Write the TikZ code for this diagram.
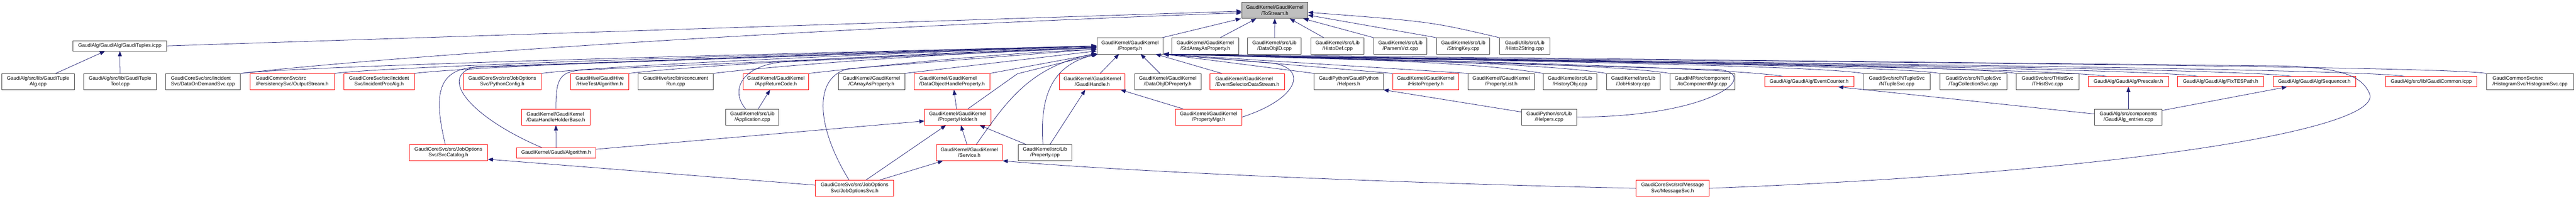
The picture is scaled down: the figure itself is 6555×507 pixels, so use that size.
\documentclass[tikz,border=0pt]{standalone}
\usepackage{fontspec}
\setmainfont{Liberation Sans}
\usetikzlibrary{arrows.meta,calc}
\definecolor{mblue}{HTML}{191970}
\definecolor{gry}{HTML}{404040}
\definecolor{rdc}{HTML}{FF0000}
\definecolor{rootfill}{HTML}{BFBFBF}
\tikzset{
 box/.style={draw, line width=1pt, inner sep=0pt, align=center, font=\fontsize{12.8pt}{15pt}\selectfont, minimum height=41pt, text=black, fill=white},
 bk/.style={box, draw=gry},
 rb/.style={box, draw=rdc},
 one/.style={minimum height=26pt},
 L/.style={align=left},
 conn/.style={draw=mblue, line width=1pt, -{Triangle[length=13pt,width=10pt]}},
}
\begin{document}
\begin{tikzpicture}[x=1pt,y=-1pt]
\fill[white] (0,0) rectangle (6555,507);
\useasboundingbox (0,0) rectangle (6555,507);
% level 0
\node[bk, fill=rootfill, minimum width=168pt] (root) at (3244,26.5) {GaudiKernel/GaudiKernel\\/ToStream.h};
% level 1
\node[bk, one, minimum width=238pt] (tup) at (305,117) {GaudiAlg/GaudiAlg/GaudiTuples.icpp};
\node[bk, minimum width=169pt] (prop) at (2875.5,117) {GaudiKernel/GaudiKernel\\/Property.h};
\node[bk, minimum width=170pt] (stdarr) at (3067,117) {GaudiKernel/GaudiKernel\\/StdArrayAsProperty.h};
\node[bk, minimum width=136pt] (dobjid) at (3243,117) {GaudiKernel/src/Lib\\/DataObjID.cpp};
\node[bk, minimum width=135pt] (histodef) at (3403.5,117) {GaudiKernel/src/Lib\\/HistoDef.cpp};
\node[bk, minimum width=135pt] (parsers) at (3563.5,117) {GaudiKernel/src/Lib\\/ParsersVct.cpp};
\node[bk, minimum width=135pt] (strkey) at (3723.5,117) {GaudiKernel/src/Lib\\/StringKey.cpp};
\node[bk, minimum width=128pt] (h2s) at (3880,117) {GaudiUtils/src/Lib\\/Histo2String.cpp};
% level 2
\node[bk, minimum width=184pt] (tupalg) at (97,208) {GaudiAlg/src/lib/GaudiTuple\\Alg.cpp};
\node[bk, minimum width=185pt] (tuptool) at (305.5,208) {GaudiAlg/src/lib/GaudiTuple\\Tool.cpp};
\node[bk, L, minimum width=191pt] (dods) at (516.5,208) {GaudiCoreSvc/src/Incident\\Svc/DataOnDemandSvc.cpp};
\node[rb, L, minimum width=215pt] (outs) at (743.5,208) {GaudiCommonSvc/src\\/PersistencySvc/OutputStream.h};
\node[rb, minimum width=179pt] (ipa) at (964.5,208) {GaudiCoreSvc/src/Incident\\Svc/IncidentProcAlg.h};
\node[rb, minimum width=198pt] (pyc) at (1278,208) {GaudiCoreSvc/src/JobOptions\\Svc/PythonConfig.h};
\node[rb, minimum width=148pt] (hive) at (1526,208) {GaudiHive/GaudiHive\\/HiveTestAlgorithm.h};
\node[bk, minimum width=191pt] (crun) at (1719.5,208) {GaudiHive/src/bin/concurrent\\Run.cpp};
\node[rb, minimum width=167pt] (arc) at (1974.5,208) {GaudiKernel/GaudiKernel\\/AppReturnCode.h};
\node[bk, minimum width=169pt] (carr) at (2217.5,208) {GaudiKernel/GaudiKernel\\/CArrayAsProperty.h};
\node[rb, L, minimum width=193pt] (dohp) at (2422.5,208) {GaudiKernel/GaudiKernel\\/DataObjectHandleProperty.h};
\node[rb, minimum width=167pt] (gh) at (2779.5,208) {GaudiKernel/GaudiKernel\\/GaudiHandle.h};
\node[bk, minimum width=169pt] (doidp) at (2971.5,208) {GaudiKernel/GaudiKernel\\/DataObjIDProperty.h};
\node[rb, L, minimum width=190pt] (esds) at (3174,208) {GaudiKernel/GaudiKernel\\/EventSelectorDataStream.h};
\node[bk, minimum width=176pt] (helph) at (3432,208) {GaudiPython/GaudiPython\\/Helpers.h};
\node[rb, minimum width=168pt] (histop) at (3628,208) {GaudiKernel/GaudiKernel\\/HistoProperty.h};
\node[bk, minimum width=168pt] (plist) at (3820,208) {GaudiKernel/GaudiKernel\\/PropertyList.h};
\node[bk, minimum width=136pt] (hobj) at (3995,208) {GaudiKernel/src/Lib\\/HistoryObj.cpp};
\node[bk, minimum width=136pt] (jhist) at (4156,208) {GaudiKernel/src/Lib\\/JobHistory.cpp};
\node[bk, minimum width=166pt] (iocm) at (4332,208) {GaudiMP/src/component\\/IoComponentMgr.cpp};
\node[rb, one, minimum width=227pt] (evc) at (4603.5,208) {GaudiAlg/GaudiAlg/EventCounter.h};
\node[bk, minimum width=171pt] (nts) at (4826.5,208) {GaudiSvc/src/NTupleSvc\\/NTupleSvc.cpp};
\node[bk, minimum width=171pt] (tcs) at (5021.5,208) {GaudiSvc/src/NTupleSvc\\/TagCollectionSvc.cpp};
\node[bk, minimum width=160pt] (ths) at (5210,208) {GaudiSvc/src/THistSvc\\/THistSvc.cpp};
\node[rb, one, minimum width=204pt] (presc) at (5416,208) {GaudiAlg/GaudiAlg/Prescaler.h};
\node[rb, one, minimum width=219pt] (fix) at (5650.5,208) {GaudiAlg/GaudiAlg/FixTESPath.h};
\node[rb, one, minimum width=210pt] (seq) at (5889,208) {GaudiAlg/GaudiAlg/Sequencer.h};
\node[rb, one, minimum width=233pt] (gcom) at (6186.5,208) {GaudiAlg/src/lib/GaudiCommon.icpp};
\node[bk, L, minimum width=222pt] (hsvc) at (6438,208) {GaudiCommonSvc/src\\/HistogramSvc/HistogramSvc.cpp};
% level 3
\node[rb, L, minimum width=175pt] (dhhb) at (1414.5,298.5) {GaudiKernel/GaudiKernel\\/DataHandleHolderBase.h};
\node[bk, minimum width=135pt] (app) at (1914.5,298.5) {GaudiKernel/src/Lib\\/Application.cpp};
\node[rb, minimum width=168pt] (ph) at (2437,298.5) {GaudiKernel/GaudiKernel\\/PropertyHolder.h};
\node[rb, minimum width=169pt] (pmgr) at (3075.5,298.5) {GaudiKernel/GaudiKernel\\/PropertyMgr.h};
\node[bk, minimum width=140pt] (helpcpp) at (3942,298.5) {GaudiPython/src/Lib\\/Helpers.cpp};
\node[bk, minimum width=172pt] (gaent) at (5416,298.5) {GaudiAlg/src/components\\/GaudiAlg\_entries.cpp};
% level 4
\node[rb, minimum width=200pt] (svccat) at (1141,389) {GaudiCoreSvc/src/JobOptions\\Svc/SvcCatalog.h};
\node[rb, one, minimum width=202pt] (algo) at (1415,389.5) {GaudiKernel/Gaudi/Algorithm.h};
\node[rb, minimum width=169pt] (svc) at (2466.5,389) {GaudiKernel/GaudiKernel\\/Service.h};
\node[bk, minimum width=136pt] (propcpp) at (2659,389) {GaudiKernel/src/Lib\\/Property.cpp};
% level 5
\node[rb, minimum width=199pt] (jos) at (2174.5,480) {GaudiCoreSvc/src/JobOptions\\Svc/JobOptionsSvc.h};
\node[rb, minimum width=186pt] (msvc) at (4256,480) {GaudiCoreSvc/src/Message\\Svc/MessageSvc.h};

% ---- edges to root
\draw[conn] (tup.east) -- ($(root.west)+(0,2)$);
\draw[conn] (dods.north east) .. controls (1000,143) and (2000,75) .. ($(root.west)+(0,6)$);
\draw[conn] ($(prop.north east)+(-3,0)$) -- ($(root.south west)+(-2,0)$);
\draw[conn] ($(stdarr.north)+(38,0)$) -- ($(root.south west)+(37,0)$);
\draw[conn] (dobjid) -- (root);
\draw[conn] ($(histodef.north)+(-35,0)$) -- ($(root.south)+(38,0)$);
\draw[conn] (parsers.north west) -- ($(root.south east)+(-12,0)$);
\draw[conn] (strkey.north west) -- ($(root.east)+(0,12)$);
\draw[conn] (h2s.north west) .. controls (3640,55) .. ($(root.east)+(0,5)$);
% ---- edges to GaudiTuples
\draw[conn] ($(tupalg.north)+(45,0)$) -- ($(tup.south)+(-38,0)$);
\draw[conn] (tuptool) -- (tup);
% ---- left bundle to Property.h
\draw[conn] (dods.north east) .. controls (812,163) and (2491,125) .. (prop.west);
\draw[conn] (outs.north east) .. controls (1051,163) and (2491,125) .. (prop.west);
\draw[conn] (ipa.north east) .. controls (1254,163) and (2491,125) .. (prop.west);
\draw[conn] (pyc.north east) .. controls (1577,163) and (2491,127) .. ($(prop.west)+(0,2)$);
\draw[conn] (hive.north east) .. controls (1800,163) and (2491,129) .. ($(prop.west)+(0,4)$);
\draw[conn] (crun.north east) .. controls (2015,163) and (2491,131) .. ($(prop.west)+(0,6)$);
\draw[conn] (arc.north east) .. controls (2258,165) and (2550,135) .. ($(prop.west)+(0,9)$);
\draw[conn] (carr.north east) -- ($(prop.west)+(0,13)$);
\draw[conn] (dohp.north east) -- ($(prop.south west)+(0,-1)$);
\draw[conn] (dhhb.north) .. controls (1414.5,195) and (1425,182) .. (1490,178) -- ($(prop.west)+(0,3)$);
\draw[conn] ($(app.north)+(-17,0)$) .. controls (1860,235) and (1880,170) .. (1990,158) -- ($(prop.west)+(0,5)$);
\draw[conn] ($(svccat.north)+(-8,0)$) .. controls (1105,250) and (1110,182) .. (1200,172) -- (prop.west);
\draw[conn] ($(algo.north)+(-37,0)$) .. controls (1200,300) and (1110,195) .. (1210,170) -- (prop.west);
\draw[conn] ($(jos.north)+(-14,0)$) .. controls (2075,320) and (2070,195) .. (2160,175) -- ($(prop.west)+(0,8)$);
\draw[conn] ($(ph.north)+(26,0)$) -- (2589,188) -- (prop.south west);
\draw[conn] ($(svc.north)+(18,0)$) .. controls (2560,260) and (2620,170) .. ($(prop.south west)+(0,-2)$);
\draw[conn] ($(propcpp.north)+(-5,0)$) .. controls (2645,240) and (2680,165) .. ($(prop.south west)+(3,0)$);
% ---- bottom of Property.h
\draw[conn] ($(gh.north)+(20,0)$) -- ($(prop.south)+(-28,0)$);
\draw[conn] ($(doidp.north)+(-20,0)$) -- ($(prop.south)+(27,0)$);
\draw[conn] ($(esds.north west)+(30,0)$) -- ($(prop.south east)+(-20,0)$);
% ---- right bundle to Property.h
\draw[conn] (pmgr.east) .. controls (3310,250) and (3330,170) .. (3230,160) -- (prop.south east);
\draw[conn] (helph.north west) -- (prop.south east);
\draw[conn] (histop.north west) -- (prop.south east);
\draw[conn] (plist.north west) -- (prop.south east);
\draw[conn] (hobj.north west) .. controls (3777,163) and (3560,152) .. (prop.south east);
\draw[conn] (jhist.north west) .. controls (3938,163) and (3560,152) .. (prop.south east);
\draw[conn] (iocm.north west) .. controls (4099,163) and (3560,152) .. (prop.south east);
\draw[conn] ($(evc.north west)+(47,0)$) .. controls (4387,170) and (3560,152) .. (prop.south east);
\draw[conn] (nts.north west) .. controls (4591,163) and (3560,152) .. (prop.south east);
\draw[conn] (tcs.north west) .. controls (4786,163) and (3560,152) .. (prop.south east);
\draw[conn] (ths.north west) .. controls (4980,163) and (3560,152) .. (prop.south east);
\draw[conn] ($(presc.north west)+(47,0)$) .. controls (5211,170) and (3560,152) .. (prop.south east);
\draw[conn] ($(fix.north west)+(52,0)$) .. controls (5443,170) and (3560,152) .. (prop.south east);
\draw[conn] ($(seq.north west)+(47,0)$) .. controls (5681,170) and (3560,152) .. (prop.south east);
\draw[conn] ($(gcom.north west)+(49,0)$) .. controls (5969,170) and (3560,152) .. (prop.south east);
\draw[conn] (hsvc.north west) .. controls (6177,163) and (3560,152) .. (prop.south east);
\draw[conn] (helpcpp.east) .. controls (4350,298) and (4480,195) .. (4380,178) -- (prop.south east);
\draw[conn] (msvc.east) .. controls (5400,440) and (6060,330) .. (6030,240) .. controls (6010,190) and (5950,172) .. (5800,168) -- (prop.south east);
% ---- other edges
\draw[conn] ($(app.north)+(15,0)$) -- ($(arc.south)+(-15,0)$);
\draw[conn] (algo) -- (dhhb);
\draw[conn] ($(algo.east)+(0,-9)$) -- ($(ph.west)+(0,10)$);
\draw[conn] ($(jos.west)+(0,-8)$) -- ($(svccat.south east)+(0,-4)$);
\draw[conn] ($(jos.north)+(29,0)$) -- ($(ph.south)+(-30,0)$);
\draw[conn] ($(jos.north)+(64,0)$) -- ($(svc.south west)+(18,0)$);
\draw[conn] ($(svc.north)+(-6,0)$) -- ($(ph.south)+(8,0)$);
\draw[conn] ($(propcpp.north west)+(20,0)$) -- ($(ph.south)+(56,0)$);
\draw[conn] ($(propcpp.north)+(13,0)$) -- ($(gh.south)+(-18,0)$);
\draw[conn] ($(ph.north)+(-3,0)$) -- ($(dohp.south)+(5,0)$);
\draw[conn] ($(pmgr.north west)+(20,0)$) -- ($(gh.south east)+(-12,0)$);
\draw[conn] ($(helpcpp.west)+(0,-13)$) -- (helph.south east);
\draw[conn] (gaent) -- (presc);
\draw[conn] ($(gaent.east)+(0,-17)$) -- ($(seq.south west)+(36,0)$);
\draw[conn] ($(gaent.west)+(0,-8)$) -- ($(evc.south east)+(-40,0)$);
\draw[conn] (msvc.west) .. controls (3600,468) and (2900,440) .. (svc.south east);
\end{tikzpicture}
\end{document}
